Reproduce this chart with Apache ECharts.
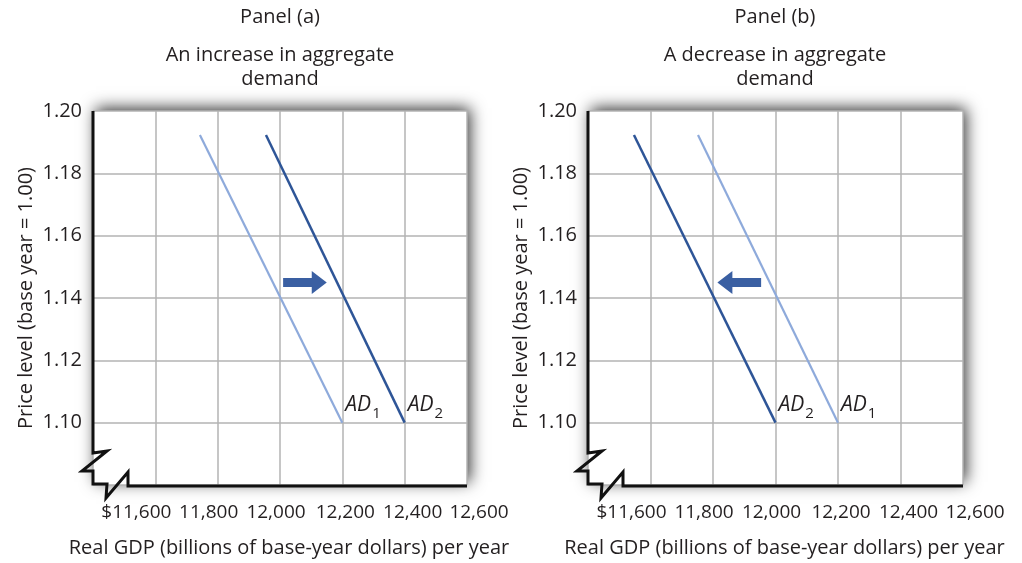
<!DOCTYPE html>
<html>
<head>
<meta charset="utf-8">
<script src="https://cdn.jsdelivr.net/npm/echarts@6/dist/echarts.min.js"></script>
<style>html,body{margin:0;padding:0;background:#fff}#c{width:1022px;height:563px}</style>
</head>
<body>
<div id="c"></div>
<script>
// ---- data ----
const xTickValues = [11600, 11800, 12000, 12200, 12400, 12600];
const xTickLabels = ['$11,600', '11,800', '12,000', '12,200', '12,400', '12,600'];
const yTickValues = [1.10, 1.12, 1.14, 1.16, 1.18, 1.20];
const yTickLabels = ['1.10', '1.12', '1.14', '1.16', '1.18', '1.20'];
const curvePrice = [1.1923, 1.10];          // price level at top / bottom end of each AD curve
const panelA_AD1 = [11743, 12200];           // real GDP, panel (a) AD1
const panelA_AD2 = [11955, 12400];           // real GDP, panel (a) AD2
const panelB_AD1 = [11752, 12200];           // real GDP, panel (b) AD1
const panelB_AD2 = [11547, 12000];           // real GDP, panel (b) AD2
const panelA_arrow = [12010, 12150, 1.145];  // [tail GDP, tip GDP, price]
const panelB_arrow = [11954, 11814, 1.145];
const titles = {
  a: ['Panel (a)', 'An increase in aggregate', 'demand'],
  b: ['Panel (b)', 'A decrease in aggregate', 'demand']
};
const xAxisName = 'Real GDP (billions of base-year dollars) per year';
const yAxisName = 'Price level (base year = 1.00)';

// ---- styles / layout ----
const FONT = 'Open Sans';
const TXT = '#231f20';
const LIGHT = '#8eaadb';
const DARK = '#2e5597';
const ARROW = '#3a5fa2';
const GRIDS = [{left: 93, top: 111, width: 374, height: 375}, {left: 588, top: 111, width: 375, height: 375}];
const labelShift = [-19, -9, -4, 3, 8, 12];

function pairs(xs, ys) { return xs.map((x, i) => [x, ys[i]]); }

const chart = echarts.init(document.getElementById('c'), null, {renderer: 'canvas'});

function xAxisFor(gi) {
  return {
    type: 'value', gridIndex: gi, min: 11400, max: 12600, interval: 200,
    axisLine: {show: false}, axisTick: {show: false},
    splitLine: {show: true, lineStyle: {color: '#b3b3b3', width: 1.5}},
    axisLabel: {
      margin: 18, color: TXT, fontFamily: FONT, fontSize: 19,
      formatter: function (v) {
        const i = xTickValues.indexOf(v);
        if (i < 0) return '';
        return '{t' + i + '|' + xTickLabels[i] + '}';
      },
      rich: Object.fromEntries(labelShift.map((s, i) => ['t' + i, {
        fontFamily: FONT, fontSize: 19, color: TXT,
        padding: s < 0 ? [0, -2 * s, 0, 0] : [0, 0, 0, 2 * s]
      }]))
    },
    name: xAxisName, nameLocation: 'middle', nameGap: 53,
    nameTextStyle: {fontFamily: FONT, fontSize: 20, color: TXT, padding: [0, 0, 0, 18]}
  };
}
function yAxisFor(gi) {
  return {
    type: 'value', gridIndex: gi, min: 1.08, max: 1.20, interval: 0.02,
    axisLine: {show: false}, axisTick: {show: false},
    splitLine: {show: true, lineStyle: {color: '#b3b3b3', width: 1.5}},
    axisLabel: {
      margin: 11, color: TXT, fontFamily: FONT, fontSize: 20,
      formatter: function (v) {
        const i = yTickValues.findIndex(t => Math.abs(t - v) < 1e-6);
        return i < 0 ? '' : yTickLabels[i];
      }
    },
    name: yAxisName, nameLocation: 'middle', nameGap: 57,
    nameTextStyle: {fontFamily: FONT, fontSize: 20, color: TXT}
  };
}

function adSeries(gi, gdp, color, width, sub) {
  return {
    type: 'line', xAxisIndex: gi, yAxisIndex: gi, data: pairs(gdp, curvePrice),
    showSymbol: false, symbol: 'none', silent: true,
    lineStyle: {color: color, width: width},
    endLabel: {
      show: true, distance: 3, offset: [0, -15],
      formatter: '{a|AD}{b|' + sub + '}',
      rich: {
        a: {fontFamily: FONT, fontSize: 21, fontStyle: 'italic', color: TXT, lineHeight: 27, verticalAlign: 'top'},
        b: {fontFamily: FONT, fontSize: 15, color: TXT, lineHeight: 15, verticalAlign: 'bottom', padding: [0, 0, 0, 1]}
      }
    }
  };
}

function arrowSeries(gi, arr) {
  return {
    type: 'custom', xAxisIndex: gi, yAxisIndex: gi, silent: true,
    data: [arr], encode: {x: [0, 1], y: 2},
    renderItem: function (params, api) {
      const p1 = api.coord([api.value(0), api.value(2)]);
      const p2 = api.coord([api.value(1), api.value(2)]);
      const d = Math.sign(p2[0] - p1[0]);
      const y = p1[1], hl = 15, sh = 4.5, hh = 11.5;
      const bx = p2[0] - d * hl;
      return {
        type: 'polygon',
        shape: {points: [[p1[0], y - sh], [bx, y - sh], [bx, y - hh], [p2[0], y], [bx, y + hh], [bx, y + sh], [p1[0], y + sh]]},
        style: {fill: ARROW}
      };
    }
  };
}

function breakAxis(g) {
  const ox = g.left, oy = g.top + g.height;
  const rel = [[0, -g.height], [0, -33], [14, -35], [-11, -15], [0, -15], [0, -2], [14, -2], [13, 12], [35, -14], [35, 0], [g.width, 0]];
  return {
    type: 'polyline', z: 100,
    shape: {points: rel.map(p => [ox + p[0], oy + p[1]])},
    style: {stroke: '#111', lineWidth: 3, fill: null, lineJoin: 'miter'}
  };
}

function titleTexts(cx, lines) {
  const ys = [17, 55, 79];
  return lines.map((t, i) => ({
    type: 'text', x: cx, y: ys[i],
    style: {text: t, align: 'center', verticalAlign: 'middle', font: '20px "' + FONT + '"', fill: TXT}
  }));
}

const option = {
  animation: false,
  backgroundColor: '#fff',
  grid: GRIDS.map(g => Object.assign({
    show: true, backgroundColor: '#fff', borderWidth: 0,
    shadowBlur: 15, shadowColor: 'rgba(0,0,0,0.8)', shadowOffsetX: 3, shadowOffsetY: -3,
    containLabel: false
  }, g)),
  xAxis: [xAxisFor(0), xAxisFor(1)],
  yAxis: [yAxisFor(0), yAxisFor(1)],
  series: [
    adSeries(0, panelA_AD1, LIGHT, 2.2, '1'),
    adSeries(0, panelA_AD2, DARK, 2.5, '2'),
    arrowSeries(0, panelA_arrow),
    adSeries(1, panelB_AD1, LIGHT, 2.2, '1'),
    adSeries(1, panelB_AD2, DARK, 2.5, '2'),
    arrowSeries(1, panelB_arrow)
  ],
  graphic: [
    breakAxis(GRIDS[0]), breakAxis(GRIDS[1]),
    ...titleTexts(280, titles.a), ...titleTexts(775, titles.b)
  ]
};
chart.setOption(option);
</script>
</body>
</html>
